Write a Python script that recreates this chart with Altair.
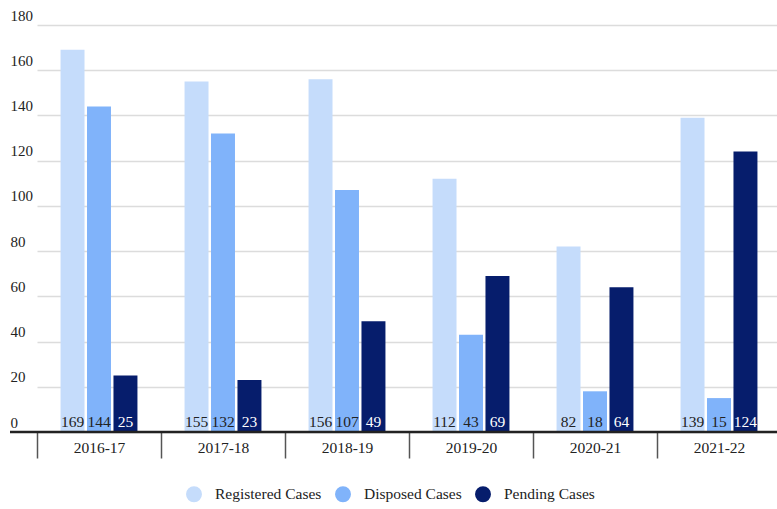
import altair as alt
import pandas as pd

years = ["2016-17", "2017-18", "2018-19", "2019-20", "2020-21", "2021-22"]
series = ["Registered Cases", "Disposed Cases", "Pending Cases"]
registered = [169, 155, 156, 112, 82, 139]
disposed = [144, 132, 107, 43, 18, 15]
pending = [25, 23, 49, 69, 64, 124]
colors = ["#c5dcfb", "#80b3fa", "#061d6c"]
y_ticks = [0, 20, 40, 60, 80, 100, 120, 140, 160, 180]

rows = []
for vals, s in zip([registered, disposed, pending], series):
    for y, v in zip(years, vals):
        rows.append({"year": y, "series": s, "value": v})
df = pd.DataFrame(rows)

FONT = "'Liberation Serif', 'DejaVu Serif', serif"
W, H = 767, 407

x_enc = alt.X("year:N", sort=years,
              scale=alt.Scale(range=[27, 771], paddingInner=0, paddingOuter=0),
              axis=alt.Axis(title=None, domain=False, ticks=True, tickBand="extent",
                            tickSize=26, tickColor="#555", tickWidth=1.5,
                            labelPadding=-18, labelFont=FONT, labelFontSize=15.5,
                            labelColor="#222", labelAngle=0, grid=False))
xoff = alt.XOffset("series:N", sort=series,
                   scale=alt.Scale(paddingInner=0.094, paddingOuter=0.89))
y_enc = alt.Y("value:Q", scale=alt.Scale(domain=[0, 180], nice=False),
              axis=alt.Axis(title=None, values=y_ticks, labelAlign="left",
                            labelBaseline="alphabetic", labelOffset=-5, labelPadding=0,
                            ticks=False, domain=False, gridColor="#dcdcdc", gridWidth=1.5,
                            labelFont=FONT, labelFontSize=15, labelColor="#222"))

base = alt.Chart(df)

bars = base.mark_bar().encode(
    x=x_enc, xOffset=xoff, y=y_enc,
    color=alt.Color("series:N", sort=series,
                    scale=alt.Scale(domain=series, range=colors),
                    legend=alt.Legend(title=None, orient="none", direction="horizontal",
                                      legendX=176, legendY=461, symbolType="circle",
                                      symbolSize=254, symbolStrokeWidth=0,
                                      labelFont=FONT, labelFontSize=15.5, labelColor="#222",
                                      labelOffset=13, columnPadding=13)),
)

texts = base.mark_text(baseline="alphabetic", dy=-5, font=FONT, fontSize=15.5).encode(
    x=alt.X("year:N", sort=years), xOffset=alt.XOffset("series:N", sort=series),
    y=alt.datum(0),
    text=alt.Text("value:Q"),
    color=alt.condition(alt.datum.series == "Pending Cases", alt.value("white"), alt.value("#222")),
)

baseline = alt.Chart(pd.DataFrame({"a": [0]})).mark_rule(color="#222", strokeWidth=2.5).encode(
    x=alt.value(0), x2=alt.value(W), y=alt.value(H)
)

chart = alt.layer(bars, texts, baseline).properties(
    width=W, height=H,
    autosize=alt.AutoSizeParams(type="none"),
    padding={"left": 10, "top": 25, "right": 0, "bottom": 77},
    background="white",
).configure_view(stroke=None)

chart.save("out.html", embed_options={"renderer": "svg", "actions": False})
